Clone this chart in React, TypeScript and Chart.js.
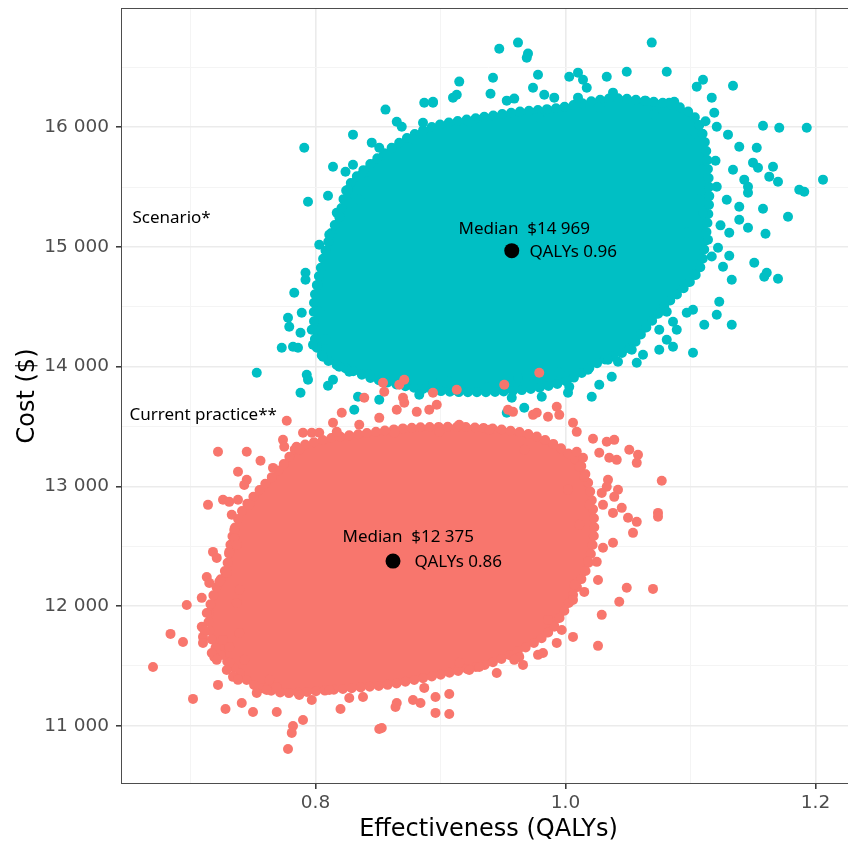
import React, { useEffect, useRef } from "react";
import { Chart, registerables } from "chart.js";

Chart.register(...registerables);

// Axis ranges and tick values
const X_MIN = 0.6444;
const X_MAX = 1.2324;
const Y_MIN = 10513;
const Y_MAX = 16996;
const xTickValues = [0.7, 0.8, 0.9, 1.0, 1.1, 1.2];
const xTickLabels = ["", "0.8", "", "1.0", "", "1.2"];
const yTickValues = [11000, 11500, 12000, 12500, 13000, 13500, 14000, 14500, 15000, 15500, 16000, 16500];
const yTickLabels = ["11 000", "", "12 000", "", "13 000", "", "14 000", "", "15 000", "", "16 000", ""];

// Dense core outline of each simulated cloud (QALYs, cost $)
const scenarioCore: [number, number][] = [
  [0.8192, 15252], [0.8248, 15478], [0.8328, 15587], [0.8512, 15754], [0.8752, 15921],
  [0.8992, 16021], [0.9312, 16080], [0.9632, 16130], [0.9952, 16163], [1.0352, 16240],
  [1.0632, 16222], [1.0880, 16180], [1.1030, 16090], [1.1110, 15896], [1.1140, 15645],
  [1.1150, 15394], [1.1120, 15060], [1.1080, 14834], [1.0990, 14701], [1.0820, 14533],
  [1.0632, 14308], [1.0500, 14141], [1.0272, 14040], [1.0032, 13890], [0.9792, 13823],
  [0.9472, 13790], [0.9072, 13790], [0.8752, 13830], [0.8456, 13900], [0.8272, 13974],
  [0.8088, 14057], [0.8008, 14166], [0.7990, 14333], [0.7990, 14559], [0.8030, 14768],
  [0.8070, 14935], [0.8136, 15144],
];

const currentCore: [number, number][] = [
  [0.7848, 13330], [0.8112, 13400], [0.8376, 13440], [0.8776, 13490], [0.9312, 13490],
  [0.9712, 13435], [0.9960, 13320], [1.0130, 13163], [1.0200, 12945], [1.0230, 12636],
  [1.0180, 12344], [1.0080, 12135], [0.9980, 11942], [0.9832, 11750], [0.9616, 11620],
  [0.9392, 11520], [0.9128, 11455], [0.8856, 11395], [0.8568, 11340], [0.8272, 11312],
  [0.8008, 11288], [0.7736, 11275], [0.7500, 11345], [0.7340, 11491], [0.7210, 11633],
  [0.7150, 11800], [0.7150, 11968], [0.7200, 12135], [0.7288, 12327], [0.7328, 12553],
  [0.7408, 12787], [0.7568, 12987], [0.7728, 13163],
];

// Individual simulations visible around the dense core
const scenarioPoints: [number, number][] = [
  [0.856, 16147], [0.887, 16205], [0.894, 16205], [0.865, 16046], [0.869, 16004],
  [0.886, 16038], [0.830, 15938], [0.791, 15829], [0.845, 15871], [0.851, 15829],
  [0.814, 15670], [0.824, 15628], [0.830, 15687], [0.837, 15603], [0.841, 15545],
  [0.794, 15378], [0.810, 15428], [0.826, 15478], [0.827, 15369], [0.817, 15286],
  [0.857, 15770], [0.803, 15018], [0.792, 14784], [0.792, 14726], [0.783, 14617],
  [0.778, 14408], [0.779, 14333], [0.789, 14450], [0.788, 14283], [0.773, 14157],
  [0.782, 14166], [0.786, 14157], [0.797, 14308], [0.803, 14458], [0.798, 14182],
  [0.753, 13948], [0.793, 13932], [0.794, 13890], [0.788, 13781], [0.810, 13840],
  [0.814, 13890], [0.806, 14082], [0.819, 13999], [0.827, 13957], [0.834, 13748],
  [0.831, 13639], [0.851, 13723], [0.883, 13765], [0.894, 13865], [0.947, 16656],
  [0.962, 16707], [0.970, 16615], [0.969, 16581], [0.915, 16381], [0.942, 16414],
  [0.940, 16280], [0.978, 16439], [0.974, 16330], [0.894, 16213], [0.910, 16247],
  [0.913, 16272], [0.953, 16222], [0.959, 16239], [0.991, 16247], [1.003, 16422],
  [1.010, 16456], [1.014, 16397], [1.017, 16330], [1.033, 16422], [1.049, 16464],
  [1.010, 16247], [1.038, 16289], [0.983, 16272], [1.069, 16707], [1.081, 16464],
  [1.110, 16397], [1.105, 16339], [1.134, 16347], [1.117, 16247], [1.119, 16121],
  [1.064, 16222], [1.083, 16205], [1.087, 16213], [1.158, 16013], [1.171, 15996],
  [1.193, 15996], [1.139, 15837], [1.153, 15829], [1.150, 15704], [1.154, 15662],
  [1.166, 15670], [1.163, 15587], [1.170, 15545], [1.206, 15562], [1.187, 15478],
  [1.191, 15461], [1.130, 15938], [1.121, 16004], [1.134, 15645], [1.143, 15562],
  [1.146, 15503], [1.146, 15453], [1.158, 15319], [1.178, 15252], [1.160, 15110],
  [1.146, 15160], [1.131, 15119], [1.151, 14868], [1.159, 14751], [1.161, 14784],
  [1.170, 14734], [1.131, 14926], [1.126, 14834], [1.133, 14726], [1.122, 14993],
  [1.097, 15119], [1.107, 15394], [1.110, 15286], [1.121, 15503], [1.139, 15336],
  [1.129, 15394], [1.139, 15227], [1.123, 14542], [1.121, 14433], [1.133, 14350],
  [1.111, 14350], [1.102, 14116], [1.102, 14475], [1.097, 14450], [1.081, 14458],
  [1.086, 14375], [1.089, 14308], [1.075, 14308], [1.086, 14166], [1.075, 14141],
  [1.081, 14224], [1.062, 14099], [1.057, 14032], [1.053, 14141], [1.037, 13915],
  [1.027, 13848], [1.021, 13748], [1.034, 14057], [1.003, 13831], [1.002, 13781],
  [0.981, 13748], [0.957, 13740], [0.967, 13656], [0.953, 13614], [0.973, 13848],
  [0.962, 13907], [0.995, 13948], [1.018, 13974], [0.937, 13823], [0.911, 13806],
  [1.099, 15896], [1.109, 15645], [1.114, 15060], [1.103, 14768], [1.071, 16105],
  [1.027, 16163], [0.979, 16080], [0.923, 16046], [0.879, 15896], [0.835, 15394],
  [0.811, 15102], [0.802, 14684], [0.808, 14224], [0.843, 13932], [0.907, 13873],
  [1.042, 14040], [1.120, 15720], [1.124, 15180], [1.117, 14920], [1.112, 16050],
];

const currentPoints: [number, number][] = [
  [0.777, 13547], [0.821, 13614], [0.814, 13531], [0.817, 13455], [0.790, 13447],
  [0.797, 13447], [0.803, 13447], [0.722, 13288], [0.745, 13288], [0.756, 13213],
  [0.766, 13154], [0.738, 13121], [0.745, 13054], [0.743, 13012], [0.774, 13388],
  [0.775, 13330], [0.714, 12845], [0.726, 12887], [0.731, 12870], [0.738, 12887],
  [0.733, 12762], [0.735, 12636], [0.735, 12569], [0.718, 12452], [0.721, 12402],
  [0.731, 12452], [0.713, 12243], [0.715, 12193], [0.723, 12202], [0.729, 12277],
  [0.697, 12009], [0.709, 12068], [0.713, 11942], [0.684, 11767], [0.694, 11700],
  [0.710, 11742], [0.710, 11692], [0.719, 11575], [0.717, 11608], [0.670, 11491],
  [0.731, 11525], [0.722, 11341], [0.734, 11408], [0.738, 11383], [0.702, 11224],
  [0.728, 11140], [0.741, 11190], [0.750, 11115], [0.769, 11115], [0.753, 11274],
  [0.761, 11299], [0.797, 11215], [0.790, 11048], [0.782, 10998], [0.781, 10940],
  [0.778, 10806], [0.820, 11140], [0.851, 10973], [0.838, 11240], [0.811, 11299],
  [0.709, 11826], [0.711, 11800], [0.726, 11717], [0.731, 11658], [0.737, 12026],
  [0.739, 11775], [0.721, 11550], [0.729, 11466], [0.763, 11383], [0.769, 11324],
  [0.864, 11157], [0.865, 11190], [0.878, 11215], [0.884, 11190], [0.896, 11240],
  [0.896, 11107], [0.907, 11265], [0.907, 11098], [0.853, 10981], [0.954, 13639],
  [0.993, 13664], [0.977, 13614], [0.986, 13581], [0.995, 13597], [1.006, 13531],
  [1.009, 13455], [1.022, 13397], [1.033, 13372], [1.039, 13388], [1.051, 13305],
  [1.058, 13263], [1.057, 13196], [1.027, 13280], [1.035, 13238], [1.041, 13221],
  [1.014, 13238], [1.009, 13288], [1.011, 13163], [1.015, 13079], [1.077, 13046],
  [1.034, 13054], [1.033, 12996], [1.029, 12945], [1.042, 12971], [1.039, 12912],
  [1.045, 12820], [1.030, 12845], [1.019, 12845], [1.038, 12778], [1.050, 12737],
  [1.057, 12703], [1.054, 12611], [1.074, 12778], [1.074, 12745], [1.038, 12528],
  [1.030, 12486], [1.018, 12369], [1.025, 12369], [1.026, 12218], [1.049, 12152],
  [1.070, 12143], [1.043, 12035], [1.029, 11926], [1.006, 12051], [1.015, 12118],
  [1.006, 11742], [0.991, 11826], [0.997, 11800], [0.993, 11692], [1.026, 11667],
  [0.978, 11592], [0.982, 11608], [0.966, 11508], [0.963, 11575], [0.945, 11441],
  [0.931, 11491], [0.923, 11466], [0.915, 11525], [0.913, 13806], [0.897, 13681],
  [0.881, 13622], [0.871, 13698], [0.854, 13865], [0.855, 13790], [0.867, 13848],
  [0.871, 13890], [0.839, 13740], [0.870, 13740], [0.894, 13781], [0.865, 13639],
  [0.891, 13639], [0.979, 13948], [0.951, 13848], [0.974, 13597], [0.958, 13622],
  [0.835, 13514], [0.851, 13572], [0.915, 13514], [0.939, 13472], [0.747, 12845],
  [0.737, 12511], [0.739, 12135], [0.743, 11550], [0.787, 11257], [0.827, 11232],
  [0.887, 11316], [0.959, 11550], [0.986, 11884], [1.007, 12177], [1.011, 12678],
  [1.002, 12971], [0.967, 13305], [0.899, 13455], [0.863, 13447], [0.787, 13305],
];

// Medians (QALYs, cost)
const scenarioMedian: [number, number] = [0.957, 14969];
const currentMedian: [number, number] = [0.862, 12375];

// Text annotations (text, x in QALYs, y in $)
const noteTexts = [
  "Scenario*",
  "Current practice**",
  "Median  $14 969",
  "QALYs 0.96",
  "Median  $12 375",
  "QALYs 0.86",
];
const noteX = [0.6536, 0.6512, 0.9144, 0.9712, 0.8216, 0.8792];
const noteY = [15244, 13597, 15152, 14960, 12578, 12369];

const TEAL = "#00BFC4";
const SALMON = "#F8766D";
const AXIS_FAMILY = '"DejaVu Sans", "Liberation Sans", Arial, sans-serif';

const toXY = (arr: [number, number][]) => arr.map(([x, y]) => ({ x, y }));
const closed = (arr: [number, number][]) => toXY([...arr, arr[0]]);

const notesPlugin = {
  id: "notesAndBorder",
  afterDatasetsDraw(chart: any) {
    const { ctx, chartArea: a, scales } = chart;
    ctx.save();
    ctx.fillStyle = "#000";
    ctx.font = '17px "Noto Sans"';
    ctx.textAlign = "left";
    ctx.textBaseline = "middle";
    noteTexts.forEach((t, i) => {
      ctx.fillText(t, scales.x.getPixelForValue(noteX[i]), scales.y.getPixelForValue(noteY[i]));
    });
    ctx.strokeStyle = "#4D4D4D";
    ctx.lineWidth = 1;
    ctx.strokeRect(a.left + 0.5, a.top + 0.5, a.right - a.left - 1, a.bottom - a.top - 1);
    ctx.restore();
  },
};

const xMajor = (i: number) => xTickLabels[i] !== "";
const yMajor = (i: number) => yTickLabels[i] !== "";

const coreStyle = (color: string, order: number) => ({
  type: "line",
  backgroundColor: color,
  borderColor: color,
  borderWidth: 10,
  borderDash: [0, 9],
  borderCapStyle: "round",
  borderJoinStyle: "round",
  pointRadius: 0,
  fill: "shape",
  tension: 0.3,
  order,
});

export default function App() {
  const ref = useRef<HTMLCanvasElement>(null);
  useEffect(() => {
    if (!ref.current) return;
    const tickFont = { family: AXIS_FAMILY, size: 18.5 };
    const titleFont = { family: AXIS_FAMILY, size: 24 };
    const chart = new Chart(ref.current, {
      type: "scatter",
      data: {
        datasets: [
          { ...coreStyle(TEAL, 6), data: closed(scenarioCore) } as any,
          {
            data: toXY(scenarioPoints),
            backgroundColor: TEAL,
            borderWidth: 0,
            pointRadius: 5,
            order: 5,
          },
          { ...coreStyle(SALMON, 4), data: closed(currentCore) } as any,
          {
            data: toXY(currentPoints),
            backgroundColor: SALMON,
            borderWidth: 0,
            pointRadius: 5,
            order: 3,
          },
          {
            data: [
              { x: scenarioMedian[0], y: scenarioMedian[1] },
              { x: currentMedian[0], y: currentMedian[1] },
            ],
            backgroundColor: "#000",
            borderWidth: 0,
            pointRadius: 7.5,
            order: 1,
          },
        ],
      },
      options: {
        responsive: false,
        animation: false,
        events: [],
        layout: { padding: { top: 8, right: 14, left: 0, bottom: 0 } },
        plugins: { legend: { display: false }, tooltip: { enabled: false } },
        scales: {
          x: {
            type: "linear",
            min: X_MIN,
            max: X_MAX,
            afterBuildTicks: (s: any) => {
              s.ticks = xTickValues.map((v) => ({ value: v }));
            },
            afterFit: (s: any) => {
              s.height = 65;
              s.paddingLeft = 0;
              s.paddingRight = 0;
            },
            border: { display: false },
            grid: {
              color: (c: any) => (xMajor(c.index) ? "#EBEBEB" : "#F4F4F4"),
              lineWidth: (c: any) => (xMajor(c.index) ? 1.6 : 1),
              tickColor: (c: any) => (xMajor(c.index) ? "#333333" : "rgba(0,0,0,0)"),
              tickWidth: 1.5,
              tickLength: 5,
            },
            ticks: {
              autoSkip: false,
              maxRotation: 0,
              padding: 3,
              color: "#4D4D4D",
              font: tickFont,
              callback: (_v: any, i: number) => xTickLabels[i],
            },
            title: {
              display: true,
              text: "Effectiveness (QALYs)",
              color: "#000",
              font: titleFont,
              padding: { top: 0, bottom: 5 },
            },
          },
          y: {
            type: "linear",
            min: Y_MIN,
            max: Y_MAX,
            afterBuildTicks: (s: any) => {
              s.ticks = yTickValues.map((v) => ({ value: v }));
            },
            afterFit: (s: any) => {
              s.width = 121;
              s.paddingTop = 0;
              s.paddingBottom = 0;
            },
            border: { display: false },
            grid: {
              color: (c: any) => (yMajor(c.index) ? "#EBEBEB" : "#F4F4F4"),
              lineWidth: (c: any) => (yMajor(c.index) ? 1.6 : 1),
              tickColor: (c: any) => (yMajor(c.index) ? "#333333" : "rgba(0,0,0,0)"),
              tickWidth: 1.5,
              tickLength: 5,
            },
            ticks: {
              autoSkip: false,
              padding: 7,
              color: "#4D4D4D",
              font: tickFont,
              callback: (_v: any, i: number) => yTickLabels[i],
            },
            title: {
              display: true,
              text: "Cost ($)",
              color: "#000",
              font: titleFont,
              padding: { top: 13, bottom: 0 },
            },
          },
        },
      },
      plugins: [notesPlugin],
    } as any);
    return () => chart.destroy();
  }, []);
  return (
    <div
      style={{
        position: "fixed",
        left: 0,
        top: 0,
        width: 848,
        height: 849,
        overflow: "hidden",
        background: "#fff",
      }}
    >
      <canvas ref={ref} width={870} height={849} style={{ width: 870, height: 849, display: "block" }} />
    </div>
  );
}
